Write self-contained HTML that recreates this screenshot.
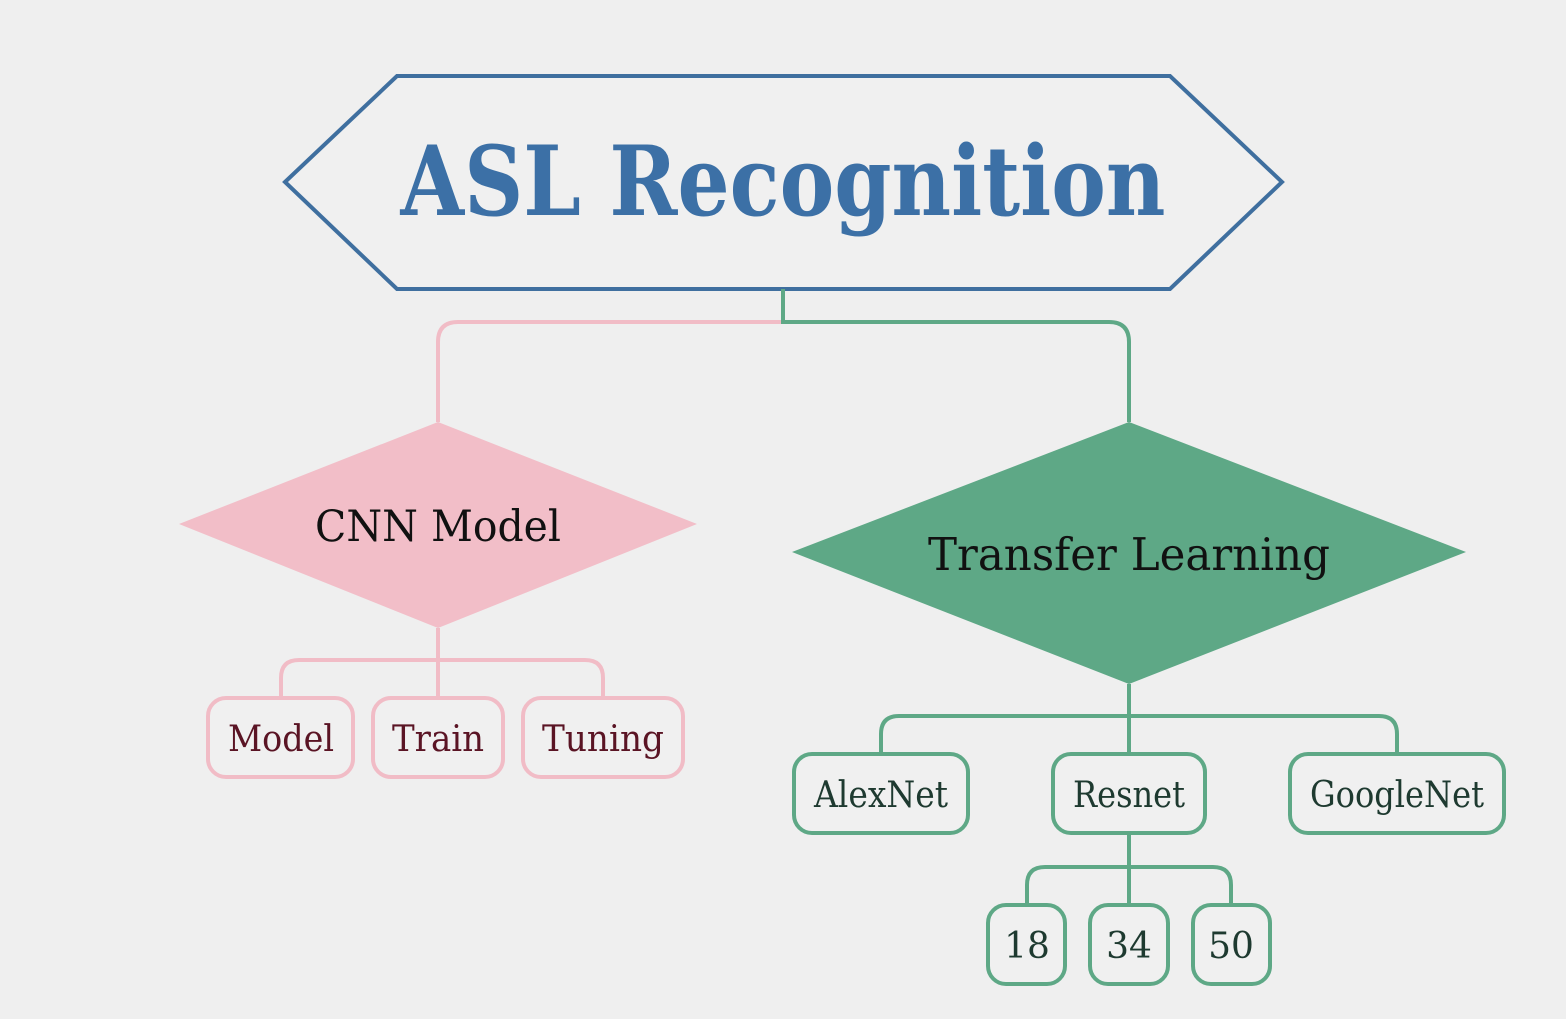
<!DOCTYPE html>
<html><head><meta charset="utf-8"><style>
html,body{margin:0;padding:0;background:#efefef;}
svg{display:block}
text{font-family:"DejaVu Serif","Liberation Serif",serif;}
</style></head><body>
<svg width="1566" height="1019" viewBox="0 0 1566 1019" xmlns="http://www.w3.org/2000/svg">
<rect width="1566" height="1019" fill="#efefef"/>
<polygon points="285,182 397,76 1170,76 1282,182 1170,289 397,289" fill="#f0f0f0" stroke="#3f6f9f" stroke-width="4"/>
<text x="783" y="215" text-anchor="middle" font-size="96" font-weight="bold" fill="#3c70a6" textLength="765" lengthAdjust="spacingAndGlyphs">ASL Recognition</text>
<g fill="none" stroke-width="4">
<path d="M783,322 H458 Q438,322 438,342 V422" stroke="#f1bcc6"/>
<path d="M783,289 V322 H1109 Q1129,322 1129,342 V422" stroke="#5ea886"/>
<path d="M438,628 V698 M281,698 V678 Q281,660 299,660 H585 Q603,660 603,678 V698" stroke="#f1bcc6"/>
<path d="M1129,684 V754 M881,754 V734 Q881,716 899,716 H1379 Q1397,716 1397,734 V754" stroke="#5ea886"/>
<path d="M1129,833 V905 M1027,905 V885 Q1027,867 1045,867 H1213 Q1231,867 1231,885 V905" stroke="#5ea886"/>
</g>
<polygon points="179,524 438,422 697,524 438,628" fill="#f2bec8"/>
<text x="438" y="541" text-anchor="middle" font-size="43" fill="#111" textLength="246" lengthAdjust="spacingAndGlyphs">CNN Model</text>
<polygon points="792,552 1129,422 1466,552 1129,684" fill="#5ea886"/>
<text x="1129" y="570" text-anchor="middle" font-size="45" fill="#111" textLength="402" lengthAdjust="spacingAndGlyphs">Transfer Learning</text>
<g stroke="#f1bcc6" stroke-width="4" fill="#f0f0f0">
<rect x="208" y="698" width="145" height="79" rx="18"/>
<rect x="373" y="698" width="130" height="79" rx="18"/>
<rect x="523" y="698" width="160" height="79" rx="18"/>
</g>
<g font-size="36" fill="#5a1424" text-anchor="middle">
<text x="281" y="751" textLength="106" lengthAdjust="spacingAndGlyphs">Model</text>
<text x="438" y="751" textLength="92" lengthAdjust="spacingAndGlyphs">Train</text>
<text x="603" y="751" textLength="122" lengthAdjust="spacingAndGlyphs">Tuning</text>
</g>
<g stroke="#5ea886" stroke-width="4" fill="#f0f0f0">
<rect x="794" y="754" width="174" height="79" rx="18"/>
<rect x="1053" y="754" width="152" height="79" rx="18"/>
<rect x="1290" y="754" width="214" height="79" rx="18"/>
<rect x="988" y="905" width="77" height="79" rx="18"/>
<rect x="1090" y="905" width="78" height="79" rx="18"/>
<rect x="1193" y="905" width="77" height="79" rx="18"/>
</g>
<g font-size="36" fill="#1e3a30" text-anchor="middle">
<text x="881" y="807" textLength="134" lengthAdjust="spacingAndGlyphs">AlexNet</text>
<text x="1129" y="807" textLength="112" lengthAdjust="spacingAndGlyphs">Resnet</text>
<text x="1397" y="807" textLength="174" lengthAdjust="spacingAndGlyphs">GoogleNet</text>
<text x="1027" y="958">18</text>
<text x="1129" y="958">34</text>
<text x="1231" y="958">50</text>
</g>
</svg>
</body></html>
